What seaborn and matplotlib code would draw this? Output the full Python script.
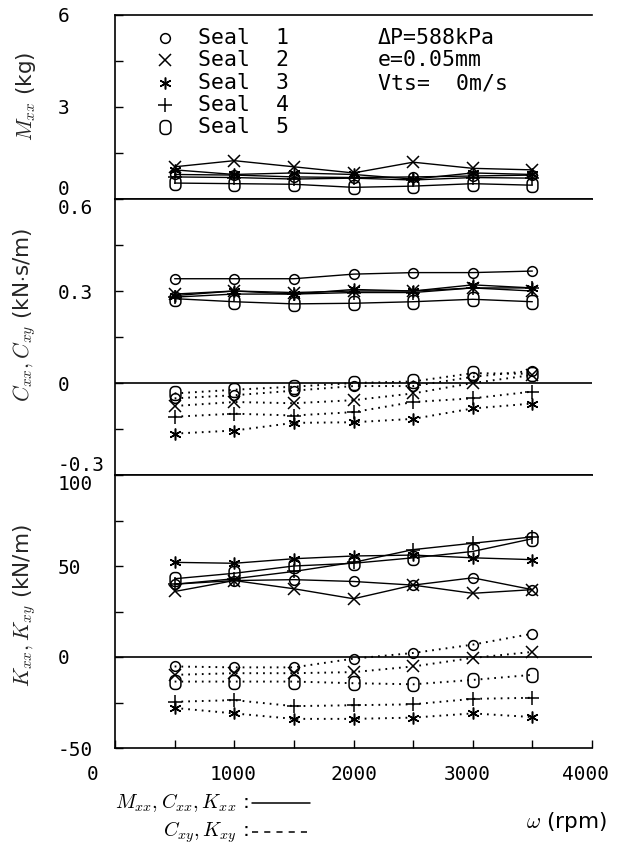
import numpy as np
import pandas as pd
import matplotlib
matplotlib.use("Agg")
import matplotlib.pyplot as plt
import matplotlib.transforms as mtransforms
from matplotlib.path import Path
from matplotlib.lines import Line2D
import seaborn as sns

# Rotor speed (rpm) at which each seal was measured
speed = [500, 1000, 1500, 2000, 2500, 3000, 3500]
seal_names = ["Seal 1", "Seal 2", "Seal 3", "Seal 4", "Seal 5"]

# Direct added mass M_xx (kg)
mxx_seal1 = [0.80, 0.78, 0.72, 0.70, 0.72, 0.75, 0.78]
mxx_seal2 = [1.05, 1.25, 1.05, 0.85, 1.20, 1.00, 0.95]
mxx_seal3 = [0.95, 0.80, 0.85, 0.80, 0.65, 0.85, 0.80]
mxx_seal4 = [0.72, 0.70, 0.65, 0.68, 0.62, 0.70, 0.68]
mxx_seal5 = [0.52, 0.50, 0.48, 0.38, 0.42, 0.50, 0.45]

# Direct damping C_xx (kN s/m)
cxx_seal1 = [0.340, 0.340, 0.340, 0.355, 0.360, 0.360, 0.365]
cxx_seal2 = [0.290, 0.300, 0.295, 0.300, 0.300, 0.310, 0.300]
cxx_seal3 = [0.285, 0.300, 0.290, 0.305, 0.300, 0.320, 0.310]
cxx_seal4 = [0.280, 0.290, 0.290, 0.295, 0.295, 0.310, 0.310]
cxx_seal5 = [0.275, 0.265, 0.258, 0.260, 0.265, 0.273, 0.265]

# Cross-coupled damping C_xy (kN s/m)
cxy_seal1 = [-0.050, -0.040, -0.025, -0.010, -0.010, 0.020, 0.040]
cxy_seal2 = [-0.075, -0.062, -0.066, -0.056, -0.034, 0.000, 0.026]
cxy_seal3 = [-0.165, -0.155, -0.130, -0.128, -0.117, -0.083, -0.067]
cxy_seal4 = [-0.110, -0.100, -0.106, -0.095, -0.062, -0.050, -0.028]
cxy_seal5 = [-0.034, -0.022, -0.012, 0.000, 0.005, 0.032, 0.030]

# Direct stiffness K_xx (kN/m)
kxx_seal1 = [40.0, 42.0, 42.5, 41.5, 39.5, 43.5, 37.0]
kxx_seal2 = [36.0, 42.0, 37.5, 32.0, 39.5, 35.0, 37.0]
kxx_seal3 = [52.0, 51.5, 54.0, 55.5, 56.0, 54.5, 53.5]
kxx_seal4 = [40.0, 43.0, 47.0, 52.0, 59.0, 62.5, 66.0]
kxx_seal5 = [43.0, 46.0, 50.0, 51.5, 54.5, 58.0, 65.0]

# Cross-coupled stiffness K_xy (kN/m)
kxy_seal1 = [-5.2, -5.7, -5.7, -0.9, 2.2, 6.8, 12.8]
kxy_seal2 = [-9.8, -8.9, -8.9, -8.3, -5.2, -0.5, 2.8]
kxy_seal3 = [-28.0, -31.0, -34.0, -34.0, -33.3, -31.0, -33.0]
kxy_seal4 = [-24.6, -23.7, -27.0, -26.5, -26.0, -23.0, -22.4]
kxy_seal5 = [-13.5, -13.5, -13.5, -14.4, -15.0, -12.6, -9.8]

# Axis ticks and labels
x_ticks = [0, 500, 1000, 1500, 2000, 2500, 3000, 3500, 4000]
x_labels = ["0", "", "1000", "", "2000", "", "3000", "", "4000"]
m_ticks = [0, 1.5, 3, 4.5, 6]
m_labels = ["0", "", "3", "", "6"]
c_ticks = [-0.3, -0.15, 0, 0.15, 0.3, 0.45, 0.6]
c_labels = ["-0.3", "", "0", "", "0.3", "", "0.6"]
k_ticks = [-50, -25, 0, 25, 50, 75, 100]
k_labels = ["-50", "", "0", "", "50", "", "100"]

# Long-form table of every curve
series = {
    ("M", "xx"): [mxx_seal1, mxx_seal2, mxx_seal3, mxx_seal4, mxx_seal5],
    ("C", "xx"): [cxx_seal1, cxx_seal2, cxx_seal3, cxx_seal4, cxx_seal5],
    ("C", "xy"): [cxy_seal1, cxy_seal2, cxy_seal3, cxy_seal4, cxy_seal5],
    ("K", "xx"): [kxx_seal1, kxx_seal2, kxx_seal3, kxx_seal4, kxx_seal5],
    ("K", "xy"): [kxy_seal1, kxy_seal2, kxy_seal3, kxy_seal4, kxy_seal5],
}
rows = []
for (coef, comp), per_seal in series.items():
    for name, vals in zip(seal_names, per_seal):
        for w, v in zip(speed, vals):
            rows.append({"coef": coef, "comp": comp, "seal": name, "speed": w, "value": v})
df = pd.DataFrame(rows)


def rounded_rect(w=0.78, h=1.0, r=0.32, n=7):
    """Tall rounded-rectangle marker outline."""
    pts = []
    corners = [(w / 2 - r, h / 2 - r, 0, 90), (-w / 2 + r, h / 2 - r, 90, 180),
               (-w / 2 + r, -h / 2 + r, 180, 270), (w / 2 - r, -h / 2 + r, 270, 360)]
    for cx, cy, a0, a1 in corners:
        th = np.radians(np.linspace(a0, a1, n))
        pts.extend(zip(cx + r * np.cos(th), cy + r * np.sin(th)))
    pts.append(pts[0])
    codes = [Path.MOVETO] + [Path.LINETO] * (len(pts) - 2) + [Path.CLOSEPOLY]
    return Path(pts, codes)


marker_style = {
    "Seal 1": dict(marker="o", ms=7.0),
    "Seal 2": dict(marker="x", ms=8.0),
    "Seal 3": dict(marker=(6, 2, 0), ms=8.5),
    "Seal 4": dict(marker="+", ms=9.5),
    "Seal 5": dict(marker=rounded_rect(), ms=10.0),
}

sns.set_theme(style="ticks")
plt.rcParams.update({
    "font.family": ["DejaVu Sans Mono", "DejaVu Sans"],
    "mathtext.fontset": "cm",
    "axes.edgecolor": "black",
    "axes.linewidth": 1.2,
    "xtick.color": "black",
    "ytick.color": "black",
    "text.color": "black",
})

W, H = 618, 856
fig = plt.figure(figsize=(W / 100, H / 100), dpi=100)


def px_axes(x0, y0, x1, y1):
    return fig.add_axes([x0 / W, 1 - y1 / H, (x1 - x0) / W, (y1 - y0) / H])


ax_m = px_axes(115, 15, 592, 199)
ax_c = px_axes(115, 199, 592, 475)
ax_k = px_axes(115, 475, 592, 748)

panels = [
    (ax_m, "M", ["xx"], (0, 6), m_ticks, m_labels, r"$M_{xx}$ (kg)", 0.56),
    (ax_c, "C", ["xx", "xy"], (-0.3, 0.6), c_ticks, c_labels, r"$C_{xx}, C_{xy}$ (kN$\cdot$s/m)", 0.58),
    (ax_k, "K", ["xx", "xy"], (-50, 100), k_ticks, k_labels, r"$K_{xx}, K_{xy}$ (kN/m)", 0.52),
]

for ax, coef, comps, ylim, yt, yl, ylabel, ly in panels:
    for comp in comps:
        ls = "-" if comp == "xx" else (0, (0.9, 2.6))
        lw = 1.0 if comp == "xx" else 1.4
        for name in seal_names:
            sub = df[(df.coef == coef) & (df.comp == comp) & (df.seal == name)]
            st = marker_style[name]
            sns.lineplot(data=sub, x="speed", y="value", ax=ax, color="black",
                         linestyle=ls, lw=lw, marker=st["marker"], ms=st["ms"],
                         mfc="none", mec="black", mew=1.1, errorbar=None,
                         estimator=None, legend=False, clip_on=False)
    if coef != "M":
        ax.axhline(0, color="black", lw=1.2, zorder=1)
    ax.set_xlim(0, 4000)
    ax.set_ylim(*ylim)
    ax.set_yticks(yt)
    ax.set_yticklabels(yl, fontsize=14)
    ax.tick_params(axis="y", direction="in", length=6, width=1.0, pad=41)
    for lab in ax.get_yticklabels():
        lab.set_horizontalalignment("left")
    ax.set_ylabel(ylabel, fontsize=15.5, family="DejaVu Sans")
    ax.yaxis.set_label_coords(-0.162, ly)
    ax.spines["right"].set_visible(False)
    ax.set_xlabel("")

for ax in (ax_m, ax_c):
    ax.set_xticks([])

ax_k.set_xticks(x_ticks)
ax_k.set_xticklabels(x_labels, fontsize=14)
ax_k.tick_params(axis="x", direction="in", length=6, width=1.0, pad=12)

# Small horizontal offsets of the speed labels (in points)
x_label_shift = [-16, 0, -1, 0, 0, 0, -4, 0, -5]
for lab, dx in zip(ax_k.get_xticklabels(), x_label_shift):
    lab.set_transform(lab.get_transform() +
                      mtransforms.ScaledTranslation(dx / 72, 0, fig.dpi_scale_trans))

# Labels that sit on panel boundaries
ax_m.get_yticklabels()[0].set_verticalalignment("bottom")
ax_c.get_yticklabels()[-1].set_verticalalignment("top")
ax_c.get_yticklabels()[0].set_verticalalignment("bottom")
ax_k.get_yticklabels()[-1].set_verticalalignment("top")

# Seal key inside the mass panel
key_rows = [0.875, 0.755, 0.630, 0.511, 0.391]
for name, yy in zip(seal_names, key_rows):
    st = marker_style[name]
    ax_m.plot([0.105], [yy], transform=ax_m.transAxes, linestyle="none",
              marker=st["marker"], ms=st["ms"], mfc="none", mec="black", mew=1.1,
              clip_on=False)
    ax_m.text(0.174, yy, name.replace(" ", "  "), transform=ax_m.transAxes,
              fontsize=15.5, va="center", ha="left")

conditions = ["\u0394P=588kPa", "e=0.05mm", "Vts=  0m/s"]
for txt, yy in zip(conditions, key_rows[:3]):
    ax_m.text(0.551, yy, txt, transform=ax_m.transAxes, fontsize=15.5,
              va="center", ha="left")

# Line-style key and the shared speed label below the plot
fig.text(249 / W, 1 - 803 / H, r"$M_{xx}, C_{xx}, K_{xx}$ :", ha="right",
         va="center", fontsize=14.5, family="DejaVu Sans")
fig.add_artist(Line2D([252 / W, 310 / W], [1 - 803 / H] * 2,
                      transform=fig.transFigure, color="black", lw=1.1))
fig.text(249 / W, 1 - 832 / H, r"$C_{xy}, K_{xy}$ :", ha="right",
         va="center", fontsize=14.5, family="DejaVu Sans")
fig.add_artist(Line2D([252 / W, 310 / W], [1 - 832 / H] * 2,
                      transform=fig.transFigure, color="black", lw=1.1,
                      linestyle=(0, (4, 4))))
fig.text(566 / W, 1 - 822 / H, r"$\omega$ (rpm)", ha="center", va="center",
         fontsize=15.5, family="DejaVu Sans")

fig.savefig("out.png", dpi=100, facecolor="white")
